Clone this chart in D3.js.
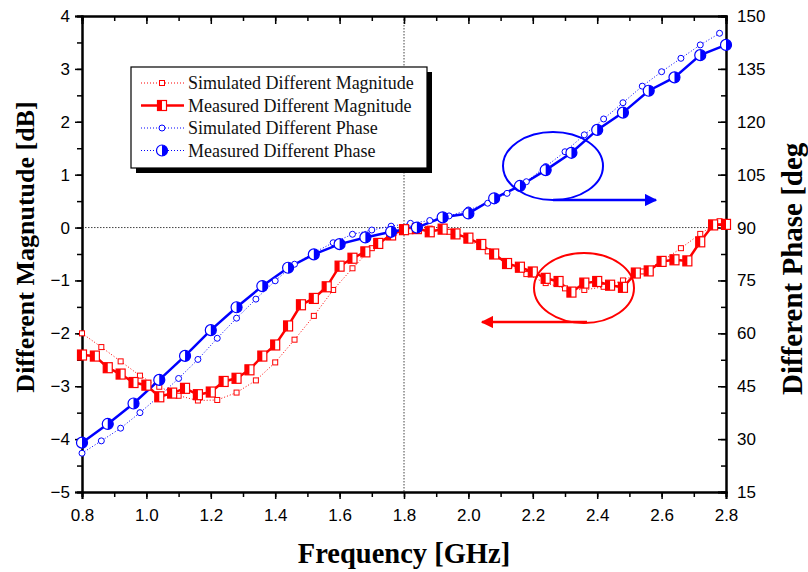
<!DOCTYPE html>
<html>
<head>
<meta charset="utf-8">
<script src="https://cdn.jsdelivr.net/npm/d3@7"></script>
<style>
  body { margin: 0; background: #fff; }
  svg { display: block; }
  .tick text { font-family: "Liberation Sans", Arial, sans-serif; }
</style>
</head>
<body>
<div id="chart"></div>
<script>
// measured data, step 0.04 GHz (magnitude) and 0.08 GHz (phase)
const freqMeasMag = [0.80, 0.84, 0.88, 0.92, 0.96, 1.00, 1.04, 1.08, 1.12, 1.16, 1.20, 1.24, 1.28, 1.32, 1.36, 1.40, 1.44, 1.48, 1.52, 1.56, 1.60, 1.64, 1.68, 1.72, 1.76, 1.80, 1.84, 1.88, 1.92, 1.96, 2.00, 2.04, 2.08, 2.12, 2.16, 2.20, 2.24, 2.28, 2.32, 2.36, 2.40, 2.44, 2.48, 2.52, 2.56, 2.60, 2.64, 2.68, 2.72, 2.76, 2.80];
const measMag = [-2.41, -2.43, -2.65, -2.77, -2.93, -2.98, -3.20, -3.13, -3.04, -3.16, -3.11, -2.91, -2.85, -2.69, -2.43, -2.22, -1.86, -1.46, -1.34, -1.12, -0.73, -0.58, -0.46, -0.30, -0.14, -0.04, -0.02, -0.08, -0.03, -0.12, -0.20, -0.32, -0.50, -0.68, -0.75, -0.84, -0.96, -1.02, -1.22, -1.05, -1.02, -1.09, -1.13, -0.86, -0.82, -0.64, -0.61, -0.63, -0.27, 0.05, 0.06];

const freqMeasPh = [0.80, 0.88, 0.96, 1.04, 1.12, 1.20, 1.28, 1.36, 1.44, 1.52, 1.60, 1.68, 1.76, 1.84, 1.92, 2.00, 2.08, 2.16, 2.24, 2.32, 2.40, 2.48, 2.56, 2.64, 2.72, 2.80];
const measPh = [29.0, 34.3, 40.1, 46.8, 53.6, 60.9, 67.4, 73.4, 78.6, 82.4, 85.3, 87.2, 88.8, 90.0, 92.9, 94.0, 98.3, 101.8, 106.3, 111.2, 117.7, 122.6, 128.8, 132.6, 138.9, 141.8];

// simulated data, step 0.06 GHz
const freqSim = [0.80, 0.86, 0.92, 0.98, 1.04, 1.10, 1.16, 1.22, 1.28, 1.34, 1.40, 1.46, 1.52, 1.58, 1.64, 1.70, 1.76, 1.82, 1.88, 1.94, 2.00, 2.06, 2.12, 2.18, 2.24, 2.30, 2.36, 2.42, 2.48, 2.54, 2.60, 2.66, 2.72, 2.78];
const simMag = [-2.00, -2.26, -2.53, -2.80, -3.01, -3.18, -3.27, -3.26, -3.12, -2.89, -2.55, -2.12, -1.67, -1.18, -0.77, -0.39, -0.17, -0.07, -0.02, -0.08, -0.22, -0.45, -0.69, -0.88, -1.05, -1.15, -1.18, -1.12, -1.00, -0.83, -0.64, -0.39, -0.12, 0.12];
const simPh = [26.0, 29.5, 33.1, 37.5, 42.2, 47.2, 52.6, 58.6, 64.3, 69.7, 74.9, 79.6, 82.9, 85.7, 88.1, 89.3, 90.4, 91.2, 92.0, 93.3, 95.0, 96.9, 99.7, 103.0, 107.3, 111.5, 116.3, 120.8, 125.4, 130.1, 134.2, 138.0, 141.8, 145.1];

const xTicks = [0.8, 1.0, 1.2, 1.4, 1.6, 1.8, 2.0, 2.2, 2.4, 2.6, 2.8];
const magTicks = [-5, -4, -3, -2, -1, 0, 1, 2, 3, 4];
const phTicks = [15, 30, 45, 60, 75, 90, 105, 120, 135, 150];

const legendItems = [
    { label: 'Simulated Different Magnitude', kind: 'simMag' },
    { label: 'Measured Different Magnitude', kind: 'measMag' },
    { label: 'Simulated Different Phase', kind: 'simPh' },
    { label: 'Measured Different Phase', kind: 'measPh' }
];

const RED = '#ff0000';
const BLUE = '#0000ff';
const W = 808, H = 572;
const plotL = 82, plotR = 726, plotT = 16, plotB = 492;

const svg = d3.select('#chart').append('svg')
    .attr('width', W)
    .attr('height', H);

const x = d3.scaleLinear().domain([0.8, 2.8]).range([plotL, plotR]);
const yMag = d3.scaleLinear().domain([-5, 4]).range([plotB, plotT]);
const yPh = d3.scaleLinear().domain([15, 150]).range([plotB, plotT]);

// reference lines
svg.append('line')
    .attr('x1', plotL).attr('x2', plotR)
    .attr('y1', yMag(0)).attr('y2', yMag(0))
    .attr('stroke', '#444').attr('stroke-width', 1)
    .attr('stroke-dasharray', '1.5,1.5');
svg.append('line')
    .attr('x1', x(1.8)).attr('x2', x(1.8))
    .attr('y1', plotT).attr('y2', plotB)
    .attr('stroke', '#444').attr('stroke-width', 1)
    .attr('stroke-dasharray', '1.5,1.5');

// axes
const minorX = d3.range(0.8, 2.81, 0.1);
const minorMag = d3.range(-5, 4.01, 0.5);
const minorPh = d3.range(15, 150.1, 7.5);

function styleAxis(g) {
    g.select('.domain').attr('stroke', '#000').attr('stroke-width', 2);
    g.selectAll('.tick line').attr('stroke', '#000').attr('stroke-width', 1.5);
    g.selectAll('.tick text').attr('font-size', 17).attr('fill', '#000');
}

// minor ticks first
svg.append('g').attr('transform', `translate(0,${plotB})`)
    .call(d3.axisBottom(x).tickValues(minorX).tickSize(5).tickFormat(''))
    .call(styleAxis);
svg.append('g').attr('transform', `translate(0,${plotT})`)
    .call(d3.axisBottom(x).tickValues(minorX).tickSize(5).tickFormat(''))
    .call(styleAxis);
svg.append('g').attr('transform', `translate(${plotL},0)`)
    .call(d3.axisLeft(yMag).tickValues(minorMag).tickSize(5).tickFormat(''))
    .call(styleAxis);
svg.append('g').attr('transform', `translate(${plotR},0)`)
    .call(d3.axisLeft(yPh).tickValues(minorPh).tickSize(5).tickFormat(''))
    .call(styleAxis);

svg.append('g').attr('transform', `translate(0,${plotB})`)
    .call(d3.axisBottom(x).tickValues(xTicks).tickSize(7).tickPadding(10).tickFormat(d3.format('.1f')))
    .call(styleAxis);
svg.append('g').attr('transform', `translate(0,${plotT})`)
    .call(d3.axisBottom(x).tickValues(xTicks).tickSize(8).tickFormat(''))
    .call(styleAxis);
svg.append('g').attr('transform', `translate(${plotL},0)`)
    .call(d3.axisLeft(yMag).tickValues(magTicks).tickSize(7).tickPadding(5).tickFormat(d3.format('d')))
    .call(styleAxis);
const rightAx = svg.append('g').attr('transform', `translate(${plotR},0)`)
    .call(d3.axisLeft(yPh).tickValues(phTicks).tickSize(8).tickFormat(d3.format('d')))
    .call(styleAxis);
rightAx.selectAll('.tick text').attr('text-anchor', 'start').attr('x', 11);

// series
const magMeasData = freqMeasMag.map((f, i) => ({ f, v: measMag[i] }));
const magSimData = freqSim.map((f, i) => ({ f, v: simMag[i] }));
const phMeasData = freqMeasPh.map((f, i) => ({ f, v: measPh[i] }));
const phSimData = freqSim.map((f, i) => ({ f, v: simPh[i] }));

const lineMag = d3.line().x(d => x(d.f)).y(d => yMag(d.v));
const linePh = d3.line().x(d => x(d.f)).y(d => yPh(d.v));

const plot = svg.append('g');

plot.append('path').datum(magSimData)
    .attr('d', lineMag).attr('fill', 'none')
    .attr('stroke', RED).attr('stroke-width', 1).attr('stroke-dasharray', '1,2');
plot.append('path').datum(phSimData)
    .attr('d', linePh).attr('fill', 'none')
    .attr('stroke', BLUE).attr('stroke-width', 1).attr('stroke-dasharray', '1,2');
plot.append('path').datum(magMeasData)
    .attr('d', lineMag).attr('fill', 'none')
    .attr('stroke', RED).attr('stroke-width', 2.5);
plot.append('path').datum(phMeasData)
    .attr('d', linePh).attr('fill', 'none')
    .attr('stroke', BLUE).attr('stroke-width', 2.5);

// marker helpers
function simSquare(g, cx, cy) {
    g.append('rect').attr('x', cx - 2.5).attr('y', cy - 2.5)
        .attr('width', 5).attr('height', 5)
        .attr('fill', '#fff').attr('stroke', RED).attr('stroke-width', 1);
}
function measSquare(g, cx, cy) {
    g.append('rect').attr('x', cx - 4.5).attr('y', cy - 5)
        .attr('width', 9).attr('height', 10)
        .attr('fill', '#fff').attr('stroke', RED).attr('stroke-width', 1.2);
    g.append('rect').attr('x', cx - 4.5).attr('y', cy - 5)
        .attr('width', 4.5).attr('height', 10)
        .attr('fill', RED);
}
function simCircle(g, cx, cy) {
    g.append('circle').attr('cx', cx).attr('cy', cy).attr('r', 3)
        .attr('fill', '#fff').attr('stroke', BLUE).attr('stroke-width', 1);
}
function measCircle(g, cx, cy) {
    const r = 5.5;
    g.append('circle').attr('cx', cx).attr('cy', cy).attr('r', r)
        .attr('fill', '#fff').attr('stroke', BLUE).attr('stroke-width', 1.2);
    g.append('path')
        .attr('d', `M${cx},${cy - r} A${r},${r} 0 0 1 ${cx},${cy + r} Z`)
        .attr('fill', BLUE);
}

const markers = plot.append('g');
magSimData.forEach(d => simSquare(markers, x(d.f), yMag(d.v)));
phSimData.forEach(d => simCircle(markers, x(d.f), yPh(d.v)));
magMeasData.forEach(d => measSquare(markers, x(d.f), yMag(d.v)));
phMeasData.forEach(d => measCircle(markers, x(d.f), yPh(d.v)));

// annotations: ellipses with arrows pointing to the axis used
const defs = svg.append('defs');
[['arrBlue', BLUE], ['arrRed', RED]].forEach(([id, c]) => {
    defs.append('marker').attr('id', id)
        .attr('viewBox', '0 0 10 10').attr('refX', 9).attr('refY', 5)
        .attr('markerWidth', 5).attr('markerHeight', 5)
        .attr('orient', 'auto')
        .append('path').attr('d', 'M0,0 L10,5 L0,10 Z').attr('fill', c);
});

svg.append('ellipse').attr('cx', 553).attr('cy', 166).attr('rx', 50).attr('ry', 34)
    .attr('fill', 'none').attr('stroke', BLUE).attr('stroke-width', 2);
svg.append('line').attr('x1', 553).attr('y1', 200).attr('x2', 656).attr('y2', 200)
    .attr('stroke', BLUE).attr('stroke-width', 2.5).attr('marker-end', 'url(#arrBlue)');

svg.append('ellipse').attr('cx', 584).attr('cy', 288).attr('rx', 50).attr('ry', 35)
    .attr('fill', 'none').attr('stroke', RED).attr('stroke-width', 2);
svg.append('line').attr('x1', 587).attr('y1', 322).attr('x2', 482).attr('y2', 322)
    .attr('stroke', RED).attr('stroke-width', 2.5).attr('marker-end', 'url(#arrRed)');

// legend
const lg = svg.append('g').attr('transform', 'translate(131,67)');
lg.append('rect').attr('x', 5).attr('y', 5).attr('width', 296).attr('height', 101).attr('fill', '#000');
lg.append('rect').attr('x', 0).attr('y', 0).attr('width', 296).attr('height', 101)
    .attr('fill', '#fff').attr('stroke', '#000').attr('stroke-width', 1.2);

legendItems.forEach((item, i) => {
    const cy = 16 + i * 22.5;
    const row = lg.append('g');
    const color = item.kind.endsWith('Mag') ? RED : BLUE;
    row.append('line').attr('x1', 10).attr('x2', 53).attr('y1', cy).attr('y2', cy)
        .attr('stroke', color)
        .attr('stroke-width', item.kind === 'measMag' ? 2.5 : 1)
        .attr('stroke-dasharray', item.kind === 'measMag' ? null : '1,2');
    if (item.kind === 'simMag') simSquare(row, 31, cy);
    if (item.kind === 'measMag') measSquare(row, 31, cy);
    if (item.kind === 'simPh') simCircle(row, 31, cy);
    if (item.kind === 'measPh') measCircle(row, 31, cy);
    row.append('text').attr('x', 57).attr('y', cy).attr('dy', '0.35em')
        .attr('font-family', '"Liberation Serif", "Times New Roman", serif')
        .attr('font-size', 18).attr('fill', '#111')
        .text(item.label);
});

// axis titles
const titleFont = '"Liberation Serif", "Times New Roman", serif';
svg.append('text').attr('x', 404).attr('y', 563)
    .attr('text-anchor', 'middle')
    .attr('font-family', titleFont).attr('font-weight', 'bold').attr('font-size', 28.5)
    .text('Frequency [GHz]');
svg.append('text').attr('transform', 'translate(34,247) rotate(-90)')
    .attr('text-anchor', 'middle')
    .attr('font-family', titleFont).attr('font-weight', 'bold').attr('font-size', 26)
    .text('Different Magnutude [dB]');
svg.append('text').attr('transform', 'translate(802,395) rotate(-90)')
    .attr('text-anchor', 'start')
    .attr('font-family', titleFont).attr('font-weight', 'bold').attr('font-size', 29)
    .text('Different Phase [deg');
</script>
</body>
</html>
